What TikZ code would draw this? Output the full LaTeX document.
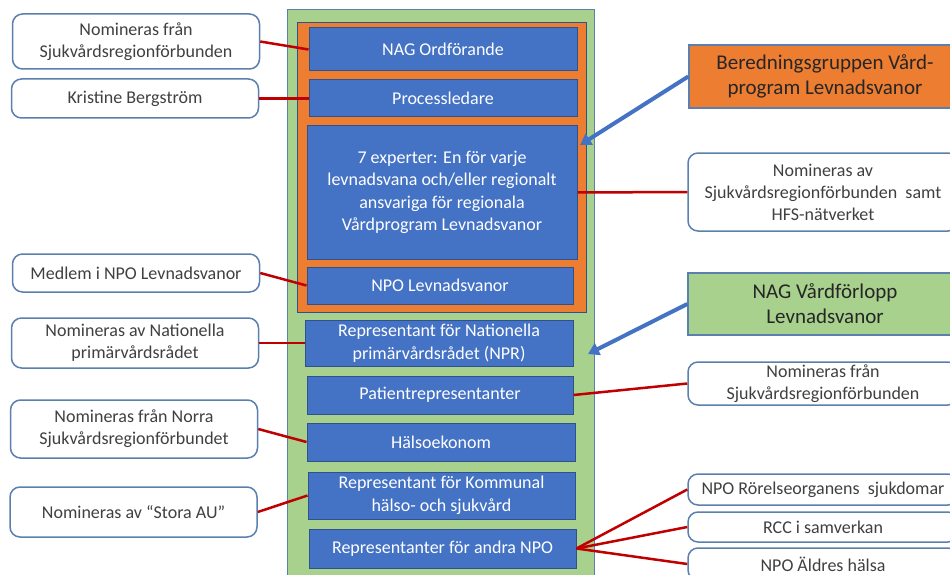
\documentclass[tikz,border=0pt]{standalone}
\usepackage{fontspec}
\setmainfont{Carlito}
\usetikzlibrary{arrows.meta}
\definecolor{boxblue}{HTML}{4472C4}
\definecolor{edgeblue}{HTML}{2F528F}
\definecolor{noteedge}{HTML}{5B7FAE}
\definecolor{grgreen}{HTML}{A9D18E}
\definecolor{grorange}{HTML}{ED7D31}
\definecolor{linkred}{HTML}{C00000}
\definecolor{txtgray}{HTML}{404040}
\begin{document}
\begin{tikzpicture}[x=1pt, y=-1pt,
    blk/.style={draw=edgeblue, line width=1pt, fill=boxblue, text=white,
      minimum width=268pt, inner sep=0pt, align=center,
      font=\fontsize{18}{22.5}\selectfont},
    note/.style={draw=noteedge, line width=1.5pt, rounded corners=10pt,
      fill=white, text=txtgray, minimum width=247pt, inner sep=0pt,
      align=center, font=\fontsize{18}{22}\selectfont},
    head/.style={draw=noteedge, line width=1.5pt, text=black!85,
      minimum width=272pt, inner sep=0pt, align=center,
      font=\fontsize{21}{25}\selectfont},
    lnk/.style={draw=linkred, line width=2.5pt},
    ptr/.style={draw=boxblue, line width=4pt,
      -{Triangle[length=11pt, width=13pt]}}]
  \useasboundingbox (0,0) rectangle (950,575);
  \clip (0,0) rectangle (950,575);

  % group frames
  \draw[draw=noteedge, line width=1pt, fill=grgreen] (287,10) rectangle (594,590);
  \draw[draw=edgeblue, line width=.8pt, fill=grorange] (297,22) rectangle (586,312);

  % members
  \node[blk, minimum height=43pt] (ordf) at (443,49.5) {NAG Ordförande};
  \node[blk, minimum height=37pt] (proc) at (443,98.5) {Processledare};
  \node[blk, minimum width=270pt, minimum height=133pt] (exp) at (442,192.5)
    {7 experter: En för varje\\levnadsvana och/eller regionalt\\ansvariga för regionala\\Vårdprogram Levnadsvanor};
  \node[blk, minimum width=266pt, minimum height=37pt] (npolev) at (440,285.5) {NPO Levnadsvanor};
  \node[blk, minimum height=46pt] (npr) at (439,343)
    {Representant för Nationella\\primärvårdsrådet (NPR)};
  \node[blk, minimum width=266pt, minimum height=38pt] (pat) at (440,395) {Patientrepresentanter};
  \node[blk, minimum height=38pt] (halso) at (441,442) {Hälsoekonom};
  \node[blk, minimum width=267pt, minimum height=47pt] (kommun) at (441.5,495.5)
    {Representant för Kommunal\\hälso- och sjukvård};
  \node[blk, minimum width=267pt, minimum height=39pt] (andra) at (442.5,548.5)
    {Representanter för andra NPO};

  % left notes
  \node[note, minimum height=55pt] (nomA) at (136,41.5)
    {Nomineras från\\Sjukvårdsregionförbunden};
  \node[note, minimum height=39pt] (kristine) at (135,98.5) {Kristine Bergström};
  \node[note, minimum height=38pt] (medlem) at (136,273) {Medlem i NPO Levnadsvanor};
  \node[note, minimum height=50pt] (nomB) at (135,343)
    {Nomineras av Nationella\\primärvårdsrådet};
  \node[note, minimum height=58pt] (norra) at (134,429)
    {Nomineras från Norra\\Sjukvårdsregionförbundet};
  \node[note, minimum height=50pt] (stora) at (133.5,512) {Nomineras av “Stora AU”};

  % right side
  \node[head, fill=grorange, minimum height=63pt] (bered) at (825,76.5)
    {Beredningsgruppen Vård-\\program Levnadsvanor};
  \node[note, minimum width=270pt, minimum height=78pt] (nomC) at (823,192)
    {Nomineras av\\Sjukvårdsregionförbunden\ \ samt\\HFS-nätverket};
  \node[head, fill=grgreen, minimum width=274pt, minimum height=62pt] (nagv) at (825,304)
    {NAG Vårdförlopp\\Levnadsvanor};
  \node[note, minimum width=270pt, minimum height=43pt] (nomD) at (823,383.5)
    {Nomineras från\\Sjukvårdsregionförbunden};
  \node[note, minimum width=270pt, minimum height=31pt] (rorelse) at (823,489.5)
    {NPO Rörelseorganens\ \ sjukdomar};
  \node[note, minimum width=270pt, minimum height=30pt] (rcc) at (823,527) {RCC i samverkan};
  \node[note, minimum width=270pt, minimum height=32pt] (aldre) at (823,564) {NPO Äldres hälsa};

  \coordinate (tipA) at (580,145);
  \coordinate (tipB) at (588,354);

  % links
  \draw[lnk] (nomA.east) -- (ordf.west);
  \draw[lnk] (kristine.east) -- (proc.west);
  \draw[lnk] (medlem.east) -- (npolev.west);
  \draw[lnk] (nomB.east) -- (npr.west);
  \draw[lnk] (norra.east) -- (halso.west);
  \draw[lnk] (stora.east) -- (kommun.west);
  \draw[lnk] (exp.east) -- (nomC.west);
  \draw[lnk] (pat.east) -- (nomD.west);
  \foreach \r in {rorelse,rcc,aldre}
    \draw[lnk] (andra.east) -- (\r.west);
  \draw[ptr] (bered.west) -- (tipA);
  \draw[ptr] (nagv.west) -- (tipB);
\end{tikzpicture}
\end{document}
